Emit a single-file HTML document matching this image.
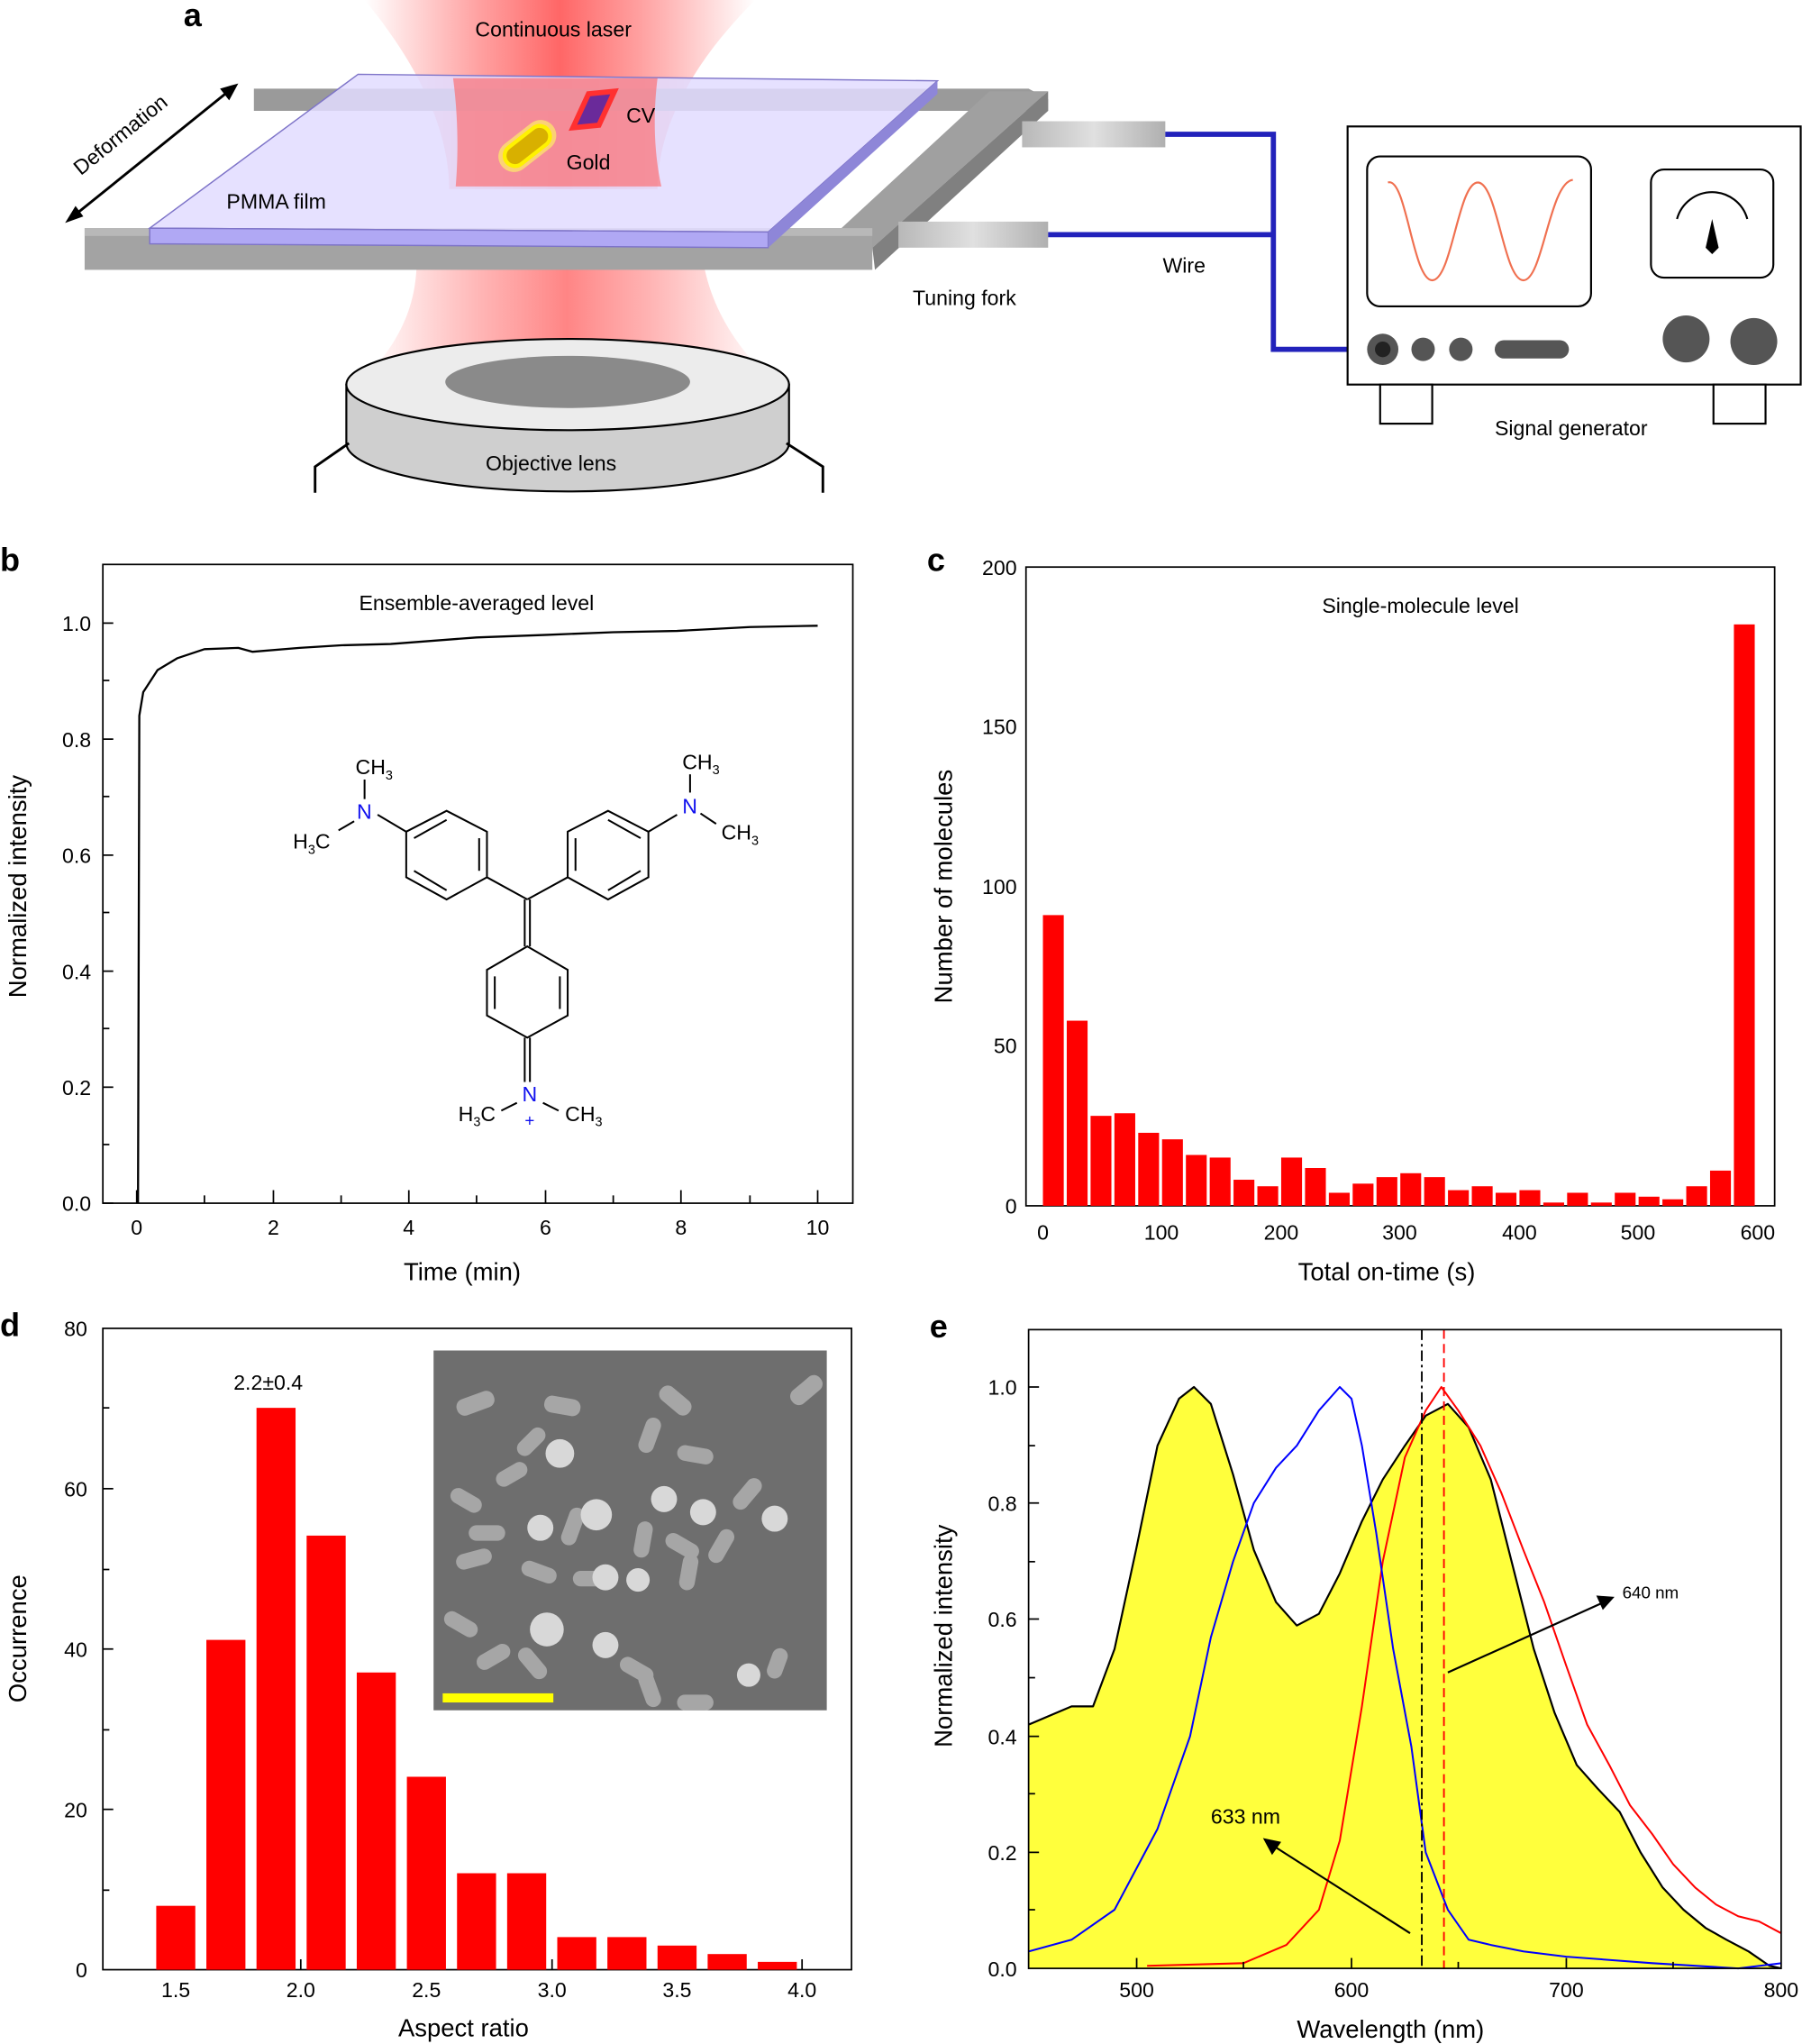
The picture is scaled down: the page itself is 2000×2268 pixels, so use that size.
<!DOCTYPE html>
<html><head><meta charset="utf-8"><style>
html,body{margin:0;padding:0;background:#fff;}
svg{display:block;}
text{font-family:"Liberation Sans",Arial,sans-serif;fill:#000;}
.t{font-size:16px;}
.ax{font-size:19px;}
.pl{font-size:25px;font-weight:bold;}
</style></head><body>
<svg width="2000" height="2268" viewBox="0 0 1384 1568" preserveAspectRatio="none" xmlns="http://www.w3.org/2000/svg">
<defs>
<linearGradient id="lz" x1="0" y1="0" x2="1" y2="0">
<stop offset="0" stop-color="#ff5050" stop-opacity="0"/>
<stop offset="0.3" stop-color="#ff5050" stop-opacity="0.55"/>
<stop offset="0.5" stop-color="#ff4040" stop-opacity="0.8"/>
<stop offset="0.7" stop-color="#ff5050" stop-opacity="0.55"/>
<stop offset="1" stop-color="#ff5050" stop-opacity="0"/>
</linearGradient>
<linearGradient id="cyl" x1="0" y1="0" x2="1" y2="0">
<stop offset="0" stop-color="#b8b8b8"/><stop offset="0.5" stop-color="#e0e0e0"/><stop offset="1" stop-color="#b0b0b0"/>
</linearGradient>
</defs>

<!-- ===== Panel a ===== -->
<text class="pl" x="141" y="20">a</text>
<path d="M280,0 L580,0 C520,60 505,110 505,145 L345,145 C345,110 330,60 280,0 Z" fill="url(#lz)"/>
<path d="M320,200 L540,200 C545,230 560,260 590,290 L280,290 C310,260 320,230 320,200 Z" fill="url(#lz)" opacity="0.8"/>
<polygon points="195,68 790,68 805,76 805,85 195,85" fill="#9a9a9a"/>
<polygon points="760,70 805,70 670,190 630,190" fill="#a0a0a0"/>
<polygon points="805,70 805,85 672,207 670,190" fill="#808080"/>
<rect x="65" y="175" width="605" height="32" fill="#a3a3a3"/>
<rect x="65" y="175" width="605" height="6" fill="#b8b8b8"/>
<polygon points="275,57 720,62 590,178 115,175" fill="#e2dcff" fill-opacity="0.85" stroke="#7e74c8" stroke-width="1"/>
<polygon points="115,175 590,178 590,190 115,187" fill="#b0a8f4" stroke="#7e74c8" stroke-width="1"/>
<polygon points="590,178 720,62 720,72 590,190" fill="#8e86d8"/>
<path d="M348,60 L505,60 C500,100 505,130 508,143 L350,143 C352,120 352,90 348,60Z" fill="#ff6060" fill-opacity="0.6"/>
<g transform="rotate(-38 405 112)">
<rect x="380" y="100" width="50" height="24" rx="12" fill="#ffff60" opacity="0.6"/>
<rect x="385" y="104" width="40" height="16" rx="8" fill="#d8b000" stroke="#fff200" stroke-width="3"/>
</g>
<polygon points="440,98 452,72 472,70 460,96" fill="#6a2a9a" stroke="#ff3030" stroke-width="4"/>
<rect x="785" y="93" width="110" height="20" fill="url(#cyl)"/>
<rect x="690" y="170" width="115" height="20" fill="url(#cyl)"/>
<polyline points="895,103 978,103 978,268 1060,268" fill="none" stroke="#2222bb" stroke-width="4"/>
<polyline points="805,180 978,180" fill="none" stroke="#2222bb" stroke-width="4"/>
<rect x="1035" y="97" width="348" height="198" fill="#fff" stroke="#000" stroke-width="1.5"/>
<rect x="1050" y="120" width="172" height="115" rx="10" fill="#fff" stroke="#000" stroke-width="1.5"/>
<path d="M1066,140 C1080,135 1085,215 1100,215 C1115,215 1120,140 1135,140 C1150,140 1155,215 1170,215 C1185,215 1190,140 1208,138" fill="none" stroke="#f07050" stroke-width="1.5"/>
<rect x="1268" y="130" width="94" height="83" rx="10" fill="#fff" stroke="#000" stroke-width="1.5"/>
<path d="M1288,168 A28,28 0 0 1 1342,168" fill="none" stroke="#000" stroke-width="1.5"/>
<polygon points="1315,168 1310,190 1315,195 1320,190" fill="#000"/>
<circle cx="1062" cy="268" r="12" fill="#555"/><circle cx="1062" cy="268" r="6" fill="#222"/>
<circle cx="1093" cy="268" r="9" fill="#555"/>
<circle cx="1122" cy="268" r="9" fill="#555"/>
<rect x="1148" y="261" width="57" height="14" rx="7" fill="#555"/>
<circle cx="1295" cy="260" r="18" fill="#555"/>
<circle cx="1347" cy="262" r="18" fill="#555"/>
<rect x="1060" y="295" width="40" height="30" fill="#fff" stroke="#000" stroke-width="1.5"/>
<rect x="1316" y="295" width="40" height="30" fill="#fff" stroke="#000" stroke-width="1.5"/>
<path d="M266,295 L266,340 A170,37 0 0 0 606,340 L606,295 Z" fill="#cfcfcf" stroke="#000" stroke-width="1.5"/>
<ellipse cx="436" cy="295" rx="170" ry="35" fill="#ececec" stroke="#000" stroke-width="1.5"/>
<ellipse cx="436" cy="293" rx="94" ry="20" fill="#8a8a8a"/>
<polyline points="268,340 242,358 242,378" fill="none" stroke="#000" stroke-width="2"/>
<polyline points="604,340 632,358 632,378" fill="none" stroke="#000" stroke-width="2"/>
<line x1="55" y1="167" x2="178" y2="68" stroke="#000" stroke-width="2"/>
<polygon points="50,171 58,158 64,166" fill="#000"/>
<polygon points="183,64 169,68 176,77" fill="#000"/>
<text class="t" transform="translate(62,135) rotate(-39)">Deformation</text>
<text class="t" x="425" y="28" text-anchor="middle">Continuous laser</text>
<text class="t" x="481" y="94">CV</text>
<text class="t" x="435" y="130">Gold</text>
<text class="t" x="174" y="160">PMMA film</text>
<text class="t" x="893" y="209">Wire</text>
<text class="t" x="701" y="234">Tuning fork</text>
<text class="t" x="1148" y="334">Signal generator</text>
<text class="t" x="373" y="361">Objective lens</text>

<!-- ===== Panel b ===== -->
<text class="pl" x="0" y="438">b</text>
<rect x="79" y="433" width="576" height="490" fill="none" stroke="#000" stroke-width="1.2"/>
<g stroke="#000" stroke-width="1.2">
<line x1="79" y1="923" x2="87" y2="923"/><line x1="79" y1="834" x2="87" y2="834"/><line x1="79" y1="745" x2="87" y2="745"/><line x1="79" y1="656" x2="87" y2="656"/><line x1="79" y1="567" x2="87" y2="567"/><line x1="79" y1="478" x2="87" y2="478"/>
<line x1="79" y1="878" x2="84" y2="878"/><line x1="79" y1="789" x2="84" y2="789"/><line x1="79" y1="700" x2="84" y2="700"/><line x1="79" y1="611" x2="84" y2="611"/><line x1="79" y1="522" x2="84" y2="522"/>
<line x1="105" y1="923" x2="105" y2="913"/><line x1="210" y1="923" x2="210" y2="913"/><line x1="314" y1="923" x2="314" y2="913"/><line x1="419" y1="923" x2="419" y2="913"/><line x1="523" y1="923" x2="523" y2="913"/><line x1="628" y1="923" x2="628" y2="913"/>
<line x1="157" y1="923" x2="157" y2="917"/><line x1="262" y1="923" x2="262" y2="917"/><line x1="366" y1="923" x2="366" y2="917"/><line x1="471" y1="923" x2="471" y2="917"/><line x1="576" y1="923" x2="576" y2="917"/>
</g>
<g text-anchor="end">
<text class="t" x="70" y="929">0.0</text><text class="t" x="70" y="840">0.2</text><text class="t" x="70" y="751">0.4</text><text class="t" x="70" y="662">0.6</text><text class="t" x="70" y="573">0.8</text><text class="t" x="70" y="484">1.0</text>
</g>
<g text-anchor="middle">
<text class="t" x="105" y="947">0</text><text class="t" x="210" y="947">2</text><text class="t" x="314" y="947">4</text><text class="t" x="419" y="947">6</text><text class="t" x="523" y="947">8</text><text class="t" x="628" y="947">10</text>
</g>
<text class="ax" x="355" y="982" text-anchor="middle">Time (min)</text>
<text class="ax" transform="translate(20,680) rotate(-90)" text-anchor="middle">Normalized intensity</text>
<text class="t" x="366" y="468" text-anchor="middle">Ensemble-averaged level</text>
<path d="M106,923 L107,549 L110,531 L121,514 L136,505 L157,498 L183,497 L194,500 L230,497 L262,495 L300,494 L366,489 L420,487 L471,485 L520,484 L576,481 L628,480" fill="none" stroke="#000" stroke-width="1.6" stroke-linejoin="round"/>
<g stroke="#000" stroke-width="1.4" fill="none">
<polygon points="312,638 343,622 374,638 374,673 343,690 312,673"/>
<line x1="318" y1="643" x2="343" y2="629"/><line x1="368" y1="643" x2="368" y2="668"/><line x1="318" y1="668" x2="343" y2="683"/>
<polygon points="436,638 467,622 498,638 498,673 467,690 436,673"/>
<line x1="442" y1="643" x2="442" y2="668"/><line x1="467" y1="629" x2="492" y2="643"/><line x1="467" y1="683" x2="492" y2="668"/>
<line x1="374" y1="673" x2="405" y2="690"/><line x1="436" y1="673" x2="405" y2="690"/>
<line x1="403" y1="690" x2="403" y2="726"/><line x1="407" y1="690" x2="407" y2="726"/>
<polygon points="405,726 436,744 436,779 405,796 374,779 374,744"/>
<line x1="380" y1="749" x2="380" y2="774"/><line x1="430" y1="749" x2="430" y2="774"/>
<line x1="403" y1="796" x2="403" y2="830"/><line x1="407" y1="796" x2="407" y2="830"/>
<line x1="312" y1="638" x2="290" y2="625"/><line x1="280" y1="613" x2="280" y2="598"/><line x1="272" y1="630" x2="260" y2="637"/>
<line x1="498" y1="638" x2="520" y2="625"/><line x1="530" y1="608" x2="530" y2="594"/><line x1="538" y1="624" x2="550" y2="632"/>
<line x1="397" y1="846" x2="385" y2="852"/><line x1="417" y1="846" x2="429" y2="852"/>
</g>
<text class="t" x="273" y="594">CH<tspan font-size="10" dy="4">3</tspan></text>
<text class="t" x="274" y="628" style="fill:#1010ee">N</text>
<text class="t" x="225" y="651">H<tspan font-size="10" dy="4">3</tspan><tspan dy="-4">C</tspan></text>
<text class="t" x="524" y="590">CH<tspan font-size="10" dy="4">3</tspan></text>
<text class="t" x="524" y="624" style="fill:#1010ee">N</text>
<text class="t" x="554" y="644">CH<tspan font-size="10" dy="4">3</tspan></text>
<text class="t" x="401" y="845" style="fill:#1010ee">N</text>
<text class="t" x="403" y="864" style="fill:#1010ee;font-size:13px">+</text>
<text class="t" x="352" y="860">H<tspan font-size="10" dy="4">3</tspan><tspan dy="-4">C</tspan></text>
<text class="t" x="434" y="860">CH<tspan font-size="10" dy="4">3</tspan></text>

<!-- ===== Panel c ===== -->
<text class="pl" x="712" y="438">c</text>
<rect x="788" y="435" width="575" height="490" fill="none" stroke="#000" stroke-width="1.2"/>
<g transform="translate(0,925) scale(1,-1)" fill="#ff0000">
<rect x="801" y="0" width="16" height="223"/><rect x="819.3" y="0" width="16" height="142"/><rect x="837.6" y="0" width="16" height="69"/><rect x="855.9" y="0" width="16" height="71"/><rect x="874.2" y="0" width="16" height="56"/><rect x="892.5" y="0" width="16" height="51"/><rect x="910.8" y="0" width="16" height="39"/><rect x="929.1" y="0" width="16" height="37"/><rect x="947.4" y="0" width="16" height="20"/><rect x="965.7" y="0" width="16" height="15"/><rect x="984" y="0" width="16" height="37"/><rect x="1002.3" y="0" width="16" height="29"/><rect x="1020.6" y="0" width="16" height="10"/><rect x="1038.9" y="0" width="16" height="17"/><rect x="1057.2" y="0" width="16" height="22"/><rect x="1075.5" y="0" width="16" height="25"/><rect x="1093.8" y="0" width="16" height="22"/><rect x="1112.1" y="0" width="16" height="12"/><rect x="1130.4" y="0" width="16" height="15"/><rect x="1148.7" y="0" width="16" height="10"/><rect x="1167" y="0" width="16" height="12"/><rect x="1185.3" y="0" width="16" height="2.5"/><rect x="1203.6" y="0" width="16" height="10"/><rect x="1221.9" y="0" width="16" height="2.5"/><rect x="1240.2" y="0" width="16" height="10"/><rect x="1258.5" y="0" width="16" height="7"/><rect x="1276.8" y="0" width="16" height="5"/><rect x="1295.1" y="0" width="16" height="15"/><rect x="1313.4" y="0" width="16" height="27"/><rect x="1331.7" y="0" width="16" height="446"/>
</g>
<g text-anchor="end">
<text class="t" x="781" y="931">0</text><text class="t" x="781" y="808">50</text><text class="t" x="781" y="686">100</text><text class="t" x="781" y="563">150</text><text class="t" x="781" y="441">200</text>
</g>
<g text-anchor="middle">
<text class="t" x="801" y="951">0</text><text class="t" x="892" y="951">100</text><text class="t" x="984" y="951">200</text><text class="t" x="1075" y="951">300</text><text class="t" x="1167" y="951">400</text><text class="t" x="1258" y="951">500</text><text class="t" x="1350" y="951">600</text>
</g>
<text class="ax" x="1065" y="982" text-anchor="middle">Total on-time (s)</text>
<text class="ax" transform="translate(731,680) rotate(-90)" text-anchor="middle">Number of molecules</text>
<text class="t" x="1091" y="470" text-anchor="middle">Single-molecule level</text>

<!-- ===== Panel d ===== -->
<text class="pl" x="0" y="1025">d</text>
<rect x="79" y="1019" width="575" height="492" fill="none" stroke="#000" stroke-width="1.2"/>
<g stroke="#000" stroke-width="1.2">
<line x1="79" y1="1388" x2="87" y2="1388"/><line x1="79" y1="1265" x2="87" y2="1265"/><line x1="79" y1="1142" x2="87" y2="1142"/>
<line x1="79" y1="1450" x2="84" y2="1450"/><line x1="79" y1="1327" x2="84" y2="1327"/><line x1="79" y1="1204" x2="84" y2="1204"/><line x1="79" y1="1080" x2="84" y2="1080"/>
<line x1="135" y1="1511" x2="135" y2="1503"/><line x1="231" y1="1511" x2="231" y2="1503"/><line x1="327.5" y1="1511" x2="327.5" y2="1503"/><line x1="424" y1="1511" x2="424" y2="1503"/><line x1="520" y1="1511" x2="520" y2="1503"/><line x1="616" y1="1511" x2="616" y2="1503"/>
<line x1="183" y1="1511" x2="183" y2="1506"/><line x1="279" y1="1511" x2="279" y2="1506"/><line x1="376" y1="1511" x2="376" y2="1506"/><line x1="472" y1="1511" x2="472" y2="1506"/><line x1="568" y1="1511" x2="568" y2="1506"/>
</g>
<g transform="translate(0,1511) scale(1,-1)" fill="#ff0000">
<rect x="120" y="0" width="30" height="49"/><rect x="158.5" y="0" width="30" height="253"/><rect x="197" y="0" width="30" height="431"/><rect x="235.5" y="0" width="30" height="333"/><rect x="274" y="0" width="30" height="228"/><rect x="312.5" y="0" width="30" height="148"/><rect x="351" y="0" width="30" height="74"/><rect x="389.5" y="0" width="30" height="74"/><rect x="428" y="0" width="30" height="25"/><rect x="466.5" y="0" width="30" height="25"/><rect x="505" y="0" width="30" height="18.5"/><rect x="543.5" y="0" width="30" height="12"/><rect x="582" y="0" width="30" height="6"/>
</g>
<g text-anchor="end">
<text class="t" x="67" y="1517">0</text><text class="t" x="67" y="1394">20</text><text class="t" x="67" y="1271">40</text><text class="t" x="67" y="1148">60</text><text class="t" x="67" y="1025">80</text>
</g>
<g text-anchor="middle">
<text class="t" x="135" y="1532">1.5</text><text class="t" x="231" y="1532">2.0</text><text class="t" x="327.5" y="1532">2.5</text><text class="t" x="424" y="1532">3.0</text><text class="t" x="520" y="1532">3.5</text><text class="t" x="616" y="1532">4.0</text>
</g>
<text class="ax" x="356" y="1562" text-anchor="middle">Aspect ratio</text>
<text class="ax" transform="translate(20,1257) rotate(-90)" text-anchor="middle">Occurrence</text>
<text class="t" x="206" y="1066" text-anchor="middle">2.2±0.4</text>
<rect x="333" y="1036" width="302" height="276" fill="#6e6e6e"/>
<g fill="#a6a6a6">
<rect x="350" y="1070" width="30" height="13" rx="6" transform="rotate(-20 365 1076)"/>
<rect x="418" y="1072" width="28" height="13" rx="6" transform="rotate(10 432 1078)"/>
<rect x="505" y="1068" width="28" height="13" rx="6" transform="rotate(40 519 1074)"/>
<rect x="605" y="1060" width="28" height="13" rx="6" transform="rotate(-40 619 1066)"/>
<rect x="380" y="1125" width="26" height="12" rx="6" transform="rotate(-30 393 1131)"/>
<rect x="345" y="1145" width="26" height="12" rx="6" transform="rotate(30 358 1151)"/>
<rect x="360" y="1170" width="28" height="12" rx="6"/>
<rect x="350" y="1190" width="28" height="12" rx="6" transform="rotate(-15 364 1196)"/>
<rect x="395" y="1100" width="26" height="12" rx="6" transform="rotate(-45 408 1106)"/>
<rect x="425" y="1165" width="30" height="12" rx="6" transform="rotate(-70 440 1171)"/>
<rect x="485" y="1095" width="28" height="12" rx="6" transform="rotate(-70 499 1101)"/>
<rect x="520" y="1110" width="28" height="12" rx="6" transform="rotate(10 534 1116)"/>
<rect x="480" y="1175" width="28" height="12" rx="6" transform="rotate(-80 494 1181)"/>
<rect x="510" y="1180" width="28" height="12" rx="6" transform="rotate(30 524 1186)"/>
<rect x="540" y="1180" width="28" height="12" rx="6" transform="rotate(-60 554 1186)"/>
<rect x="400" y="1200" width="28" height="12" rx="6" transform="rotate(20 414 1206)"/>
<rect x="440" y="1205" width="28" height="12" rx="6"/>
<rect x="515" y="1200" width="28" height="12" rx="6" transform="rotate(-80 529 1206)"/>
<rect x="340" y="1240" width="28" height="12" rx="6" transform="rotate(30 354 1246)"/>
<rect x="365" y="1265" width="28" height="12" rx="6" transform="rotate(-30 379 1271)"/>
<rect x="395" y="1270" width="28" height="12" rx="6" transform="rotate(50 409 1276)"/>
<rect x="475" y="1275" width="28" height="12" rx="6" transform="rotate(30 489 1281)"/>
<rect x="485" y="1290" width="28" height="12" rx="6" transform="rotate(70 499 1296)"/>
<rect x="560" y="1140" width="28" height="12" rx="6" transform="rotate(-50 574 1146)"/>
<rect x="585" y="1270" width="24" height="12" rx="6" transform="rotate(-70 597 1276)"/>
<rect x="520" y="1300" width="28" height="12" rx="6"/>
</g>
<g fill="#d8d8d8">
<circle cx="430" cy="1115" r="11"/><circle cx="458" cy="1162" r="12"/><circle cx="415" cy="1172" r="10"/><circle cx="420" cy="1250" r="13"/><circle cx="465" cy="1210" r="10"/><circle cx="465" cy="1262" r="10"/><circle cx="510" cy="1150" r="10"/><circle cx="540" cy="1160" r="10"/><circle cx="595" cy="1165" r="10"/><circle cx="490" cy="1212" r="9"/><circle cx="575" cy="1285" r="9"/>
</g>
<rect x="340" y="1299" width="85" height="7" fill="#ffff00"/>

<!-- ===== Panel e ===== -->
<text class="pl" x="714" y="1026">e</text>
<path d="M790,1323 L823,1309 L839.5,1309 L856,1265 L872.5,1189 L889,1109 L905.5,1073 L917,1064 L930,1077 L947,1131 L963,1189 L980,1229 L996,1247 L1013,1238 L1029,1207 L1046,1167 L1062,1135 L1079,1109 L1095,1086 L1112,1077 L1128,1095 L1145,1135 L1161,1198 L1178,1265 L1194,1314 L1211,1354 L1227,1372 L1244,1390 L1260,1421 L1277,1448 L1293,1465 L1310,1479 L1326,1488 L1343,1497 L1359,1508 L1368,1510 L790,1510 Z" fill="#ffff3c"/>
<path d="M790,1323 L823,1309 L839.5,1309 L856,1265 L872.5,1189 L889,1109 L905.5,1073 L917,1064 L930,1077 L947,1131 L963,1189 L980,1229 L996,1247 L1013,1238 L1029,1207 L1046,1167 L1062,1135 L1079,1109 L1095,1086 L1112,1077 L1128,1095 L1145,1135 L1161,1198 L1178,1265 L1194,1314 L1211,1354 L1227,1372 L1244,1390 L1260,1421 L1277,1448 L1293,1465 L1310,1479 L1326,1488 L1343,1497 L1359,1508 L1368,1510" fill="none" stroke="#000" stroke-width="1.5" stroke-linejoin="round"/>
<path d="M881,1508 L955,1506 L988,1492 L1013,1465 L1029,1412 L1046,1309 L1062,1198 L1079,1118 L1095,1082 L1107,1064 L1120,1082 L1137,1109 L1153,1145 L1170,1189 L1186,1229 L1203,1278 L1219,1323 L1236,1354 L1252,1385 L1269,1407 L1285,1430 L1302,1448 L1318,1461 L1335,1470 L1351,1474 L1368,1483" fill="none" stroke="#ff0000" stroke-width="1.4" stroke-linejoin="round"/>
<path d="M790,1497 L823,1488 L856,1465 L889,1403 L914,1332 L930,1256 L947,1198 L963,1153 L980,1126 L996,1109 L1013,1082 L1029,1064 L1038,1073 L1046,1109 L1057,1176 L1070,1265 L1084,1340 L1095,1421 L1112,1465 L1128,1488 L1145,1492 L1170,1497 L1203,1501 L1269,1506 L1335,1510 L1368,1506" fill="none" stroke="#0000ff" stroke-width="1.4" stroke-linejoin="round"/>
<line x1="1092" y1="1020" x2="1092" y2="1510" stroke="#000" stroke-width="1.3" stroke-dasharray="8,3,2,3"/>
<line x1="1109" y1="1020" x2="1109" y2="1510" stroke="#ff0000" stroke-width="1.3" stroke-dasharray="7,4"/>
<rect x="790" y="1020" width="578" height="490" fill="none" stroke="#000" stroke-width="1.2"/>
<g stroke="#000" stroke-width="1.2">
<line x1="790" y1="1421" x2="798" y2="1421"/><line x1="790" y1="1332" x2="798" y2="1332"/><line x1="790" y1="1242" x2="798" y2="1242"/><line x1="790" y1="1153" x2="798" y2="1153"/><line x1="790" y1="1064" x2="798" y2="1064"/>
<line x1="790" y1="1465" x2="795" y2="1465"/><line x1="790" y1="1376" x2="795" y2="1376"/><line x1="790" y1="1287" x2="795" y2="1287"/><line x1="790" y1="1198" x2="795" y2="1198"/><line x1="790" y1="1109" x2="795" y2="1109"/>
<line x1="873" y1="1510" x2="873" y2="1502"/><line x1="1038" y1="1510" x2="1038" y2="1502"/><line x1="1203" y1="1510" x2="1203" y2="1502"/>
<line x1="955" y1="1510" x2="955" y2="1505"/><line x1="1120" y1="1510" x2="1120" y2="1505"/><line x1="1285" y1="1510" x2="1285" y2="1505"/>
</g>
<g text-anchor="end">
<text class="t" x="781" y="1516">0.0</text><text class="t" x="781" y="1427">0.2</text><text class="t" x="781" y="1338">0.4</text><text class="t" x="781" y="1248">0.6</text><text class="t" x="781" y="1159">0.8</text><text class="t" x="781" y="1070">1.0</text>
</g>
<g text-anchor="middle">
<text class="t" x="873" y="1532">500</text><text class="t" x="1038" y="1532">600</text><text class="t" x="1203" y="1532">700</text><text class="t" x="1368" y="1532">800</text>
</g>
<text class="ax" x="1068" y="1563" text-anchor="middle">Wavelength (nm)</text>
<text class="ax" transform="translate(731,1255) rotate(-90)" text-anchor="middle">Normalized intensity</text>
<line x1="1112" y1="1283" x2="1232" y2="1229" stroke="#000" stroke-width="1.5"/>
<polygon points="1240,1225 1226,1224 1231,1235" fill="#000"/>
<text x="1246" y="1226" style="font-size:13px">640 nm</text>
<line x1="1083" y1="1483" x2="978" y2="1416" stroke="#000" stroke-width="1.5"/>
<polygon points="970,1410 977,1423 984,1413" fill="#000"/>
<text class="t" x="930" y="1399">633 nm</text>
</svg>
</body></html>
